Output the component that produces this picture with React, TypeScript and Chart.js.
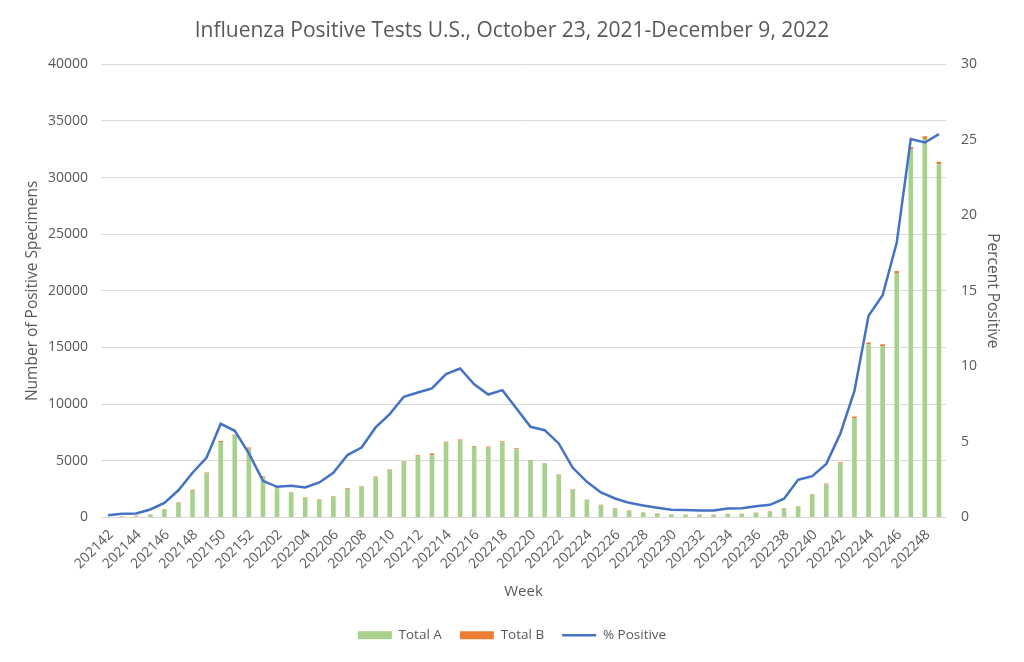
import React, { useEffect, useRef } from "react";
import { Chart, registerables } from "chart.js";

Chart.register(...registerables);

const weeks = [
  "202142", "202143", "202144", "202145", "202146", "202147", "202148", "202149", "202150", "202151", "202152",
  "202201", "202202", "202203", "202204", "202205", "202206", "202207", "202208", "202209", "202210",
  "202211", "202212", "202213", "202214", "202215", "202216", "202217", "202218", "202219", "202220",
  "202221", "202222", "202223", "202224", "202225", "202226", "202227", "202228", "202229", "202230",
  "202231", "202232", "202233", "202234", "202235", "202236", "202237", "202238", "202239", "202240",
  "202241", "202242", "202243", "202244", "202245", "202246", "202247", "202248", "202249",
];

const totalA = [
  40, 80, 110, 265, 700, 1275, 2370, 3915, 6660, 7210, 6070,
  3560, 2580, 2175, 1730, 1550, 1820, 2510, 2730, 3560, 4185,
  4910, 5420, 5485, 6605, 6800, 6250, 6180, 6640, 6025, 5000,
  4740, 3740, 2430, 1560, 1090, 770, 580, 440, 350, 275,
  245, 245, 245, 305, 335, 410, 490, 770, 950, 2000,
  2940, 4780, 8780, 15270, 15140, 21580, 32480, 33390, 31170,
];

const totalB = [
  10, 40, 40, 30, 40, 50, 70, 60, 80, 90, 110,
  90, 70, 60, 40, 40, 60, 70, 60, 60, 50,
  60, 80, 160, 70, 80, 70, 80, 90, 90, 60,
  50, 50, 40, 30, 30, 40, 40, 30, 30, 20,
  20, 20, 20, 20, 20, 30, 40, 40, 50, 60,
  60, 90, 130, 170, 150, 180, 220, 250, 230,
];

const percentPositive = [
  0.15, 0.25, 0.26, 0.53, 0.97, 1.8, 2.96, 3.97, 6.2, 5.74, 4.24,
  2.43, 2.03, 2.1, 1.99, 2.32, 2.96, 4.13, 4.63, 5.96, 6.84,
  7.99, 8.27, 8.54, 9.49, 9.86, 8.82, 8.14, 8.43, 7.21, 6.0,
  5.78, 4.9, 3.29, 2.36, 1.66, 1.26, 0.97, 0.79, 0.64, 0.51,
  0.49, 0.47, 0.46, 0.6, 0.62, 0.75, 0.84, 1.24, 2.49, 2.74,
  3.55, 5.56, 8.38, 13.35, 14.71, 18.18, 25.04, 24.82, 25.37,
];

const TEXT = "#595959";
const FONT = "'Open Sans', sans-serif";

export default function App() {
  const ref = useRef<HTMLCanvasElement>(null);

  useEffect(() => {
    document.body.style.margin = "0";
    const canvas = ref.current;
    if (!canvas) return;
    Chart.defaults.font.family = FONT;
    Chart.defaults.color = TEXT;
    const chart = new Chart(canvas, {
      type: "bar",
      data: {
        labels: weeks,
        datasets: [
          {
            type: "bar",
            label: "Total A",
            data: totalA,
            backgroundColor: "#A9D18E",
            borderWidth: 0,
            stack: "s",
            yAxisID: "y",
            barPercentage: 0.33,
            categoryPercentage: 1,
            pointStyle: "rect",
            order: 1,
          },
          {
            type: "bar",
            label: "Total B",
            data: totalB,
            backgroundColor: "#ED7D31",
            borderWidth: 0,
            stack: "s",
            yAxisID: "y",
            barPercentage: 0.33,
            categoryPercentage: 1,
            pointStyle: "rect",
            order: 1,
          },
          {
            type: "line",
            label: "% Positive",
            data: percentPositive,
            borderColor: "#4472C4",
            backgroundColor: "#4472C4",
            borderWidth: 2.5,
            pointRadius: 0,
            pointStyle: "line",
            tension: 0,
            yAxisID: "y1",
            order: 0,
          },
        ],
      },
      options: {
        responsive: false,
        animation: false,
        layout: { padding: { left: 0, right: 0, top: 0, bottom: 10 } },
        plugins: {
          title: {
            display: true,
            text: "Influenza Positive Tests U.S., October 23, 2021-December 9, 2022",
            color: TEXT,
            font: { family: FONT, size: 21, weight: "normal" },
            padding: { top: 18, bottom: 21 },
          },
          legend: {
            position: "bottom",
            labels: {
              usePointStyle: true,
              pointStyleWidth: 34,
              boxHeight: 8,
              padding: 18,
              color: TEXT,
              font: { family: FONT, size: 13.5 },
              sort: (a: any, b: any) => a.datasetIndex - b.datasetIndex,
            },
          },
          tooltip: { enabled: false },
        },
        scales: {
          x: {
            stacked: true,
            grid: { display: false, drawTicks: false },
            border: { display: false },
            ticks: {
              autoSkip: false,
              minRotation: 45,
              maxRotation: 45,
              padding: 9,
              labelOffset: 3,
              color: TEXT,
              font: { family: FONT, size: 14 },
              callback: (_v: any, i: number) => (i % 2 === 0 ? weeks[i] : null),
            },
            title: {
              display: true,
              text: "Week",
              color: TEXT,
              font: { family: FONT, size: 15 },
              padding: { top: 0, bottom: 10 },
            },
            afterFit: (s: any) => {
              s.height = 93;
            },
          },
          y: {
            stacked: true,
            position: "left",
            min: 0,
            max: 40000,
            ticks: {
              stepSize: 5000,
              padding: 13,
              color: TEXT,
              font: { family: FONT, size: 14 },
              callback: (v: any) => String(v),
            },
            grid: { color: "#D9D9D9", lineWidth: 1, drawTicks: false },
            border: { display: false },
            title: {
              display: true,
              text: "Number of Positive Specimens",
              color: TEXT,
              font: { family: FONT, size: 15.5 },
              padding: { top: 23, bottom: 0 },
            },
            afterFit: (s: any) => {
              s.width = 101;
            },
          },
          y1: {
            position: "right",
            min: 0,
            max: 30,
            ticks: {
              stepSize: 5,
              padding: 15,
              color: TEXT,
              font: { family: FONT, size: 14 },
              callback: (v: any) => String(v),
            },
            grid: { display: false, drawTicks: false },
            border: { display: false },
            title: {
              display: true,
              text: "Percent Positive",
              color: TEXT,
              font: { family: FONT, size: 15.5 },
              padding: { top: 22, bottom: 0 },
            },
            afterFit: (s: any) => {
              s.width = 78;
            },
          },
        },
      },
    } as any);
    return () => chart.destroy();
  }, []);

  return (
    <div style={{ width: 1024, height: 662 }}>
      <canvas ref={ref} width={1024} height={662} style={{ display: "block" }} />
    </div>
  );
}
